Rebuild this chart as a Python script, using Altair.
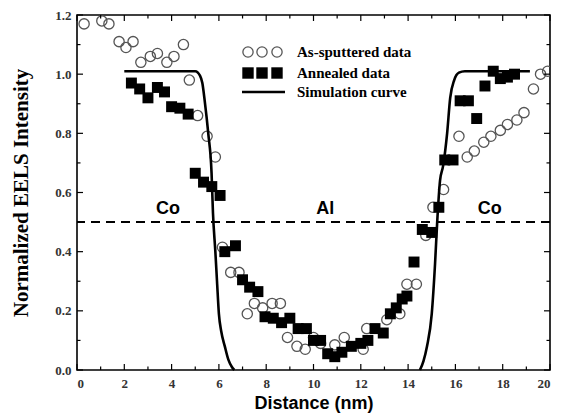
import altair as alt
import pandas as pd

# ---- data ----
as_x = [0.3, 1.05, 1.35, 1.78, 2.07, 2.37, 2.7, 3.1, 3.4, 3.8, 4.1, 4.5, 4.75, 5.1, 5.5, 5.85,
        6.15, 6.5, 6.85, 7.2, 7.5, 7.85, 8.25, 8.6, 8.9, 9.3, 9.65, 10.0, 10.3, 10.9, 11.3, 12.1,
        12.25, 13.1, 13.65, 13.95, 14.35, 14.75, 15.05, 15.5, 16.15, 16.5, 16.8, 17.2, 17.5, 17.9,
        18.2, 18.6, 18.9, 19.3, 19.6, 19.9]
as_y = [1.17, 1.18, 1.17, 1.11, 1.09, 1.11, 1.04, 1.06, 1.07, 1.04, 1.06, 1.10, 0.98, 0.86, 0.79, 0.72,
        0.415, 0.33, 0.33, 0.19, 0.225, 0.21, 0.225, 0.225, 0.11, 0.08, 0.07, 0.11, 0.09, 0.085, 0.11, 0.07,
        0.14, 0.17, 0.19, 0.29, 0.29, 0.455, 0.55, 0.61, 0.79, 0.72, 0.74, 0.77, 0.79, 0.81,
        0.83, 0.845, 0.87, 0.95, 1.00, 1.01]

an_x = [2.3, 2.65, 3.0, 3.4, 3.7, 4.0, 4.35, 4.7, 5.0, 5.35, 5.7, 6.05, 6.25, 6.7, 7.0, 7.3, 7.65,
        7.95, 8.3, 8.65, 9.0, 9.35, 9.7, 10.0, 10.3, 10.6, 10.9, 11.2, 11.6, 12.0, 12.3, 12.6, 12.95,
        13.25, 13.5, 13.75, 13.95, 14.25, 14.6, 15.0, 15.3, 15.55, 15.9, 16.2, 16.55, 16.9, 17.25,
        17.6, 17.9, 18.2, 18.5]
an_y = [0.97, 0.95, 0.92, 0.955, 0.94, 0.89, 0.885, 0.865, 0.665, 0.635, 0.62, 0.59, 0.40, 0.42, 0.305,
        0.28, 0.265, 0.18, 0.175, 0.16, 0.175, 0.14, 0.14, 0.10, 0.10, 0.055, 0.045, 0.06, 0.08, 0.09,
        0.10, 0.14, 0.125, 0.19, 0.21, 0.24, 0.25, 0.365, 0.475, 0.465, 0.55, 0.71, 0.71, 0.91, 0.91,
        0.85, 0.96, 1.01, 0.985, 0.99, 1.00]

sim_left_x = [2.0, 5.0, 5.2, 5.3, 5.4, 5.55, 5.69, 5.75, 5.85, 5.92, 6.0, 6.1, 6.25, 6.4, 6.55, 6.65]
sim_left_y = [1.01, 1.01, 0.995, 0.97, 0.91, 0.80, 0.665, 0.53, 0.40, 0.30, 0.19, 0.13, 0.08, 0.035, 0.01, 0.0]
sim_right_x = [14.5, 14.65, 14.8, 15.0, 15.14, 15.23, 15.35, 15.48, 15.65, 15.78, 15.95, 16.15, 16.4, 19.15]
sim_right_y = [0.0, 0.03, 0.08, 0.19, 0.36, 0.50, 0.64, 0.69, 0.80, 0.92, 0.98, 1.005, 1.01, 1.01]

region_labels = ["Co", "Al", "Co"]
region_x = [3.85, 10.5, 17.45]
region_y = [0.513, 0.513, 0.513]

boundary_y = [0.5]

x_tick_values = list(range(0, 21, 2))
y_tick_values = [0.0, 0.2, 0.4, 0.6, 0.8, 1.0, 1.2]
x_major = list(range(0, 21, 2))
x_minor = list(range(1, 20, 2))
y_major = [0.0, 0.2, 0.4, 0.6, 0.8, 1.0, 1.2]
y_minor = [0.1, 0.3, 0.5, 0.7, 0.9, 1.1]

legend_labels = ["As-sputtered data", "Annealed data", "Simulation curve"]

W, H = 473, 355
SERIF = "Liberation Serif"
SANS = "Liberation Sans"

xs = alt.Scale(domain=[0, 20], nice=False, zero=False)
ys = alt.Scale(domain=[0, 1.2], nice=False, zero=False)

xaxis = alt.Axis(values=x_tick_values, format="d", ticks=False, domain=False, grid=False,
                 labelFont=SERIF, labelFontWeight="bold", labelFontSize=13, labelColor="#333",
                 labelPadding=7, title="Distance (nm)", titleFont=SANS, titleFontWeight="bold",
                 titleFontSize=18, titleColor="black", titlePadding=4)
yaxis = alt.Axis(values=y_tick_values, format=".1f", ticks=False, domain=False, grid=False,
                 labelFont=SERIF, labelFontWeight="bold", labelFontSize=13, labelColor="#333",
                 labelPadding=6, title="Normalized EELS Intensity", titleFont=SERIF,
                 titleFontWeight="bold", titleFontSize=21, titleColor="black", titlePadding=23)


def X(field):
    return alt.X(field, scale=xs, axis=xaxis, title="Distance (nm)")


def Y(field):
    return alt.Y(field, scale=ys, axis=yaxis, title="Normalized EELS Intensity")


df_as = pd.DataFrame({"x": as_x, "y": as_y})
df_an = pd.DataFrame({"x": an_x, "y": an_y})
df_sim = pd.DataFrame({
    "x": sim_left_x + sim_right_x,
    "y": sim_left_y + sim_right_y,
    "seg": ["L"] * len(sim_left_x) + ["R"] * len(sim_right_x),
})
df_lab = pd.DataFrame({"x": region_x, "y": region_y, "t": region_labels})

circles = alt.Chart(df_as).mark_point(
    shape="circle", size=105, filled=False, stroke="#555", strokeWidth=1.3, opacity=1, clip=True
).encode(x=X("x:Q"), y=Y("y:Q"))

squares = alt.Chart(df_an).mark_point(
    shape="square", size=120, filled=True, color="black", opacity=1, clip=True
).encode(x=X("x:Q"), y=Y("y:Q"))

sim = alt.Chart(df_sim).mark_line(color="black", strokeWidth=2.6, interpolate="monotone").encode(
    x=X("x:Q"), y=Y("y:Q"), detail="seg:N"
)

dashed = alt.Chart(pd.DataFrame({"y": boundary_y})).mark_rule(
    color="black", strokeWidth=2, strokeDash=[9, 6]
).encode(y=Y("y:Q"))

labels = alt.Chart(df_lab).mark_text(
    font=SANS, fontWeight="bold", fontSize=18, baseline="bottom", color="black"
).encode(x=X("x:Q"), y=Y("y:Q"), text="t:N")


# inward ticks on all four sides
def xticks(vals, length):
    d = pd.DataFrame({"x": vals})
    b = alt.Chart(d).mark_rule(color="black", strokeWidth=1.2).encode(
        x=X("x:Q"), y=alt.value(H), y2=alt.value(H - length))
    t = alt.Chart(d).mark_rule(color="black", strokeWidth=1.2).encode(
        x=X("x:Q"), y=alt.value(0), y2=alt.value(length))
    return [b, t]


def yticks(vals, length):
    d = pd.DataFrame({"y": vals})
    l = alt.Chart(d).mark_rule(color="black", strokeWidth=1.2).encode(
        y=Y("y:Q"), x=alt.value(0), x2=alt.value(length))
    r = alt.Chart(d).mark_rule(color="black", strokeWidth=1.2).encode(
        y=Y("y:Q"), x=alt.value(W), x2=alt.value(W - length))
    return [l, r]


tick_layers = xticks(x_major, 6) + xticks(x_minor, 3.5) + yticks(y_major, 6) + yticks(y_minor, 3.5)

# legend (drawn in pixel space inside the plot)
one = alt.Data(values=[{"k": 0}])
leg = []
for px in [171, 185, 200]:
    leg.append(alt.Chart(one).mark_point(shape="circle", size=105, filled=False, stroke="#555",
                                          strokeWidth=1.3, opacity=1).encode(
        x=alt.value(px), y=alt.value(37)))
    leg.append(alt.Chart(one).mark_point(shape="square", size=130, filled=True, color="black",
                                          opacity=1).encode(
        x=alt.value(px), y=alt.value(58)))
leg.append(alt.Chart(one).mark_rule(color="black", strokeWidth=2.6).encode(
    x=alt.value(165), x2=alt.value(208), y=alt.value(77)))
for lab, py in zip(legend_labels, [37, 58, 77]):
    leg.append(alt.Chart(one).mark_text(
        font=SERIF, fontWeight="bold", fontSize=15, align="left", baseline="middle", color="black",
        text=lab).encode(x=alt.value(220), y=alt.value(py)))

chart = alt.layer(circles, squares, sim, dashed, labels, *tick_layers, *leg).properties(
    width=W, height=H,
    padding={"left": 77, "top": 15, "right": 15, "bottom": 50},
    autosize=alt.AutoSizeParams(type="none"),
    background="white",
).configure_view(stroke="black", strokeWidth=1.6)

chart.save("out.html", embed_options={"renderer": "svg", "actions": False})
